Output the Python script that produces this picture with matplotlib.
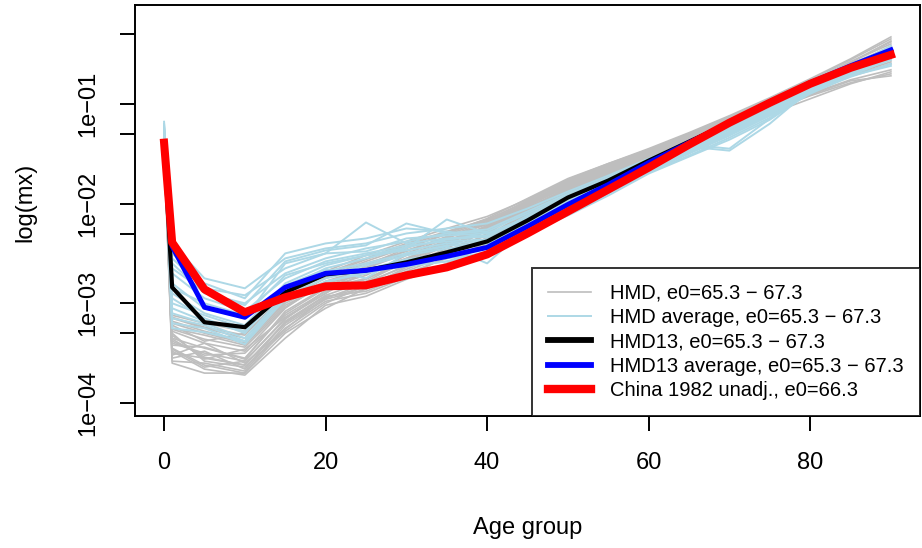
import matplotlib
matplotlib.use("Agg")
import matplotlib.pyplot as plt
import numpy as np
from matplotlib.lines import Line2D

plt.rcParams['font.family'] = ['Liberation Sans', 'DejaVu Sans']

ages = [0, 1, 5, 10, 15, 20, 25, 30, 35, 40, 45, 50, 55, 60, 65, 70, 75, 80, 85, 90]

# log10(mx)
china = [-1.39, -2.39, -2.86, -3.09, -2.94, -2.83, -2.82, -2.72, -2.64, -2.51,
         -2.30, -2.08, -1.86, -1.64, -1.41, -1.19, -0.99, -0.80, -0.64, -0.51]
hmd13 = [-1.40, -2.84, -3.19, -3.24, -2.89, -2.71, -2.67, -2.59, -2.49, -2.38,
         -2.17, -1.94, -1.77, -1.57, -1.38, -1.19, -0.99, -0.80, -0.63, -0.49]
hmd13_avg = [-1.40, -2.43, -3.04, -3.14, -2.84, -2.70, -2.67, -2.61, -2.53, -2.44,
             -2.23, -2.01, -1.81, -1.59, -1.39, -1.19, -0.99, -0.79, -0.62, -0.46]

hmd_gray = [
    [-1.30, -3.20, -3.30, -3.40, -3.00, -2.80, -2.70, -2.55, -2.40, -2.25, -2.05, -1.85, -1.68, -1.50, -1.33, -1.15, -0.97, -0.78, -0.58, -0.40],
    [-1.35, -3.35, -3.45, -3.55, -3.10, -2.85, -2.75, -2.60, -2.42, -2.27, -2.08, -1.88, -1.70, -1.52, -1.36, -1.18, -1.00, -0.82, -0.62, -0.45],
    [-1.25, -3.50, -3.55, -3.62, -3.20, -2.95, -2.80, -2.62, -2.45, -2.25, -2.03, -1.80, -1.62, -1.47, -1.31, -1.14, -0.95, -0.76, -0.56, -0.35],
    [-1.45, -3.15, -3.25, -3.35, -2.92, -2.70, -2.55, -2.40, -2.28, -2.16, -1.98, -1.78, -1.62, -1.48, -1.33, -1.18, -1.02, -0.85, -0.68, -0.52],
    [-1.40, -3.60, -3.70, -3.70, -3.30, -3.05, -2.85, -2.70, -2.55, -2.35, -2.12, -1.90, -1.72, -1.55, -1.40, -1.24, -1.06, -0.88, -0.70, -0.55],
    [-1.30, -3.28, -3.40, -3.48, -3.05, -2.78, -2.65, -2.50, -2.35, -2.20, -2.00, -1.82, -1.66, -1.50, -1.35, -1.20, -1.04, -0.88, -0.72, -0.60],
    [-1.50, -3.45, -3.62, -3.70, -3.25, -2.98, -2.90, -2.74, -2.60, -2.38, -2.10, -1.85, -1.66, -1.48, -1.32, -1.16, -0.98, -0.80, -0.62, -0.42],
    [-1.22, -3.40, -3.50, -3.58, -3.15, -2.90, -2.62, -2.45, -2.30, -2.15, -1.95, -1.75, -1.60, -1.46, -1.30, -1.13, -0.95, -0.77, -0.58, -0.38],
    [-1.38, -3.55, -3.48, -3.66, -3.18, -2.92, -2.78, -2.58, -2.40, -2.22, -2.02, -1.83, -1.67, -1.52, -1.38, -1.22, -1.06, -0.90, -0.76, -0.66],
    [-1.33, -3.22, -3.38, -3.30, -2.95, -2.75, -2.60, -2.48, -2.33, -2.19, -2.00, -1.80, -1.64, -1.49, -1.34, -1.17, -1.00, -0.83, -0.66, -0.50],
    [-1.42, -3.30, -3.58, -3.64, -3.28, -3.00, -2.82, -2.66, -2.50, -2.30, -2.06, -1.86, -1.70, -1.54, -1.39, -1.23, -1.07, -0.92, -0.79, -0.70],
    [-1.28, -3.12, -3.20, -3.28, -2.88, -2.68, -2.52, -2.38, -2.25, -2.13, -1.96, -1.77, -1.61, -1.47, -1.31, -1.14, -0.96, -0.78, -0.60, -0.43],
    [-1.36, -3.48, -3.66, -3.72, -3.35, -3.02, -2.93, -2.76, -2.62, -2.40, -2.18, -1.92, -1.74, -1.57, -1.41, -1.26, -1.10, -0.95, -0.80, -0.68],
    [-1.46, -3.25, -3.32, -3.42, -3.02, -2.82, -2.70, -2.55, -2.38, -2.24, -2.04, -1.84, -1.68, -1.51, -1.35, -1.19, -1.02, -0.86, -0.70, -0.56],
    [-1.31, -3.38, -3.52, -3.50, -3.12, -2.88, -2.76, -2.56, -2.43, -2.28, -2.07, -1.87, -1.71, -1.53, -1.37, -1.20, -1.03, -0.84, -0.65, -0.47],
    [-1.27, -3.58, -3.60, -3.68, -3.22, -2.96, -2.86, -2.68, -2.52, -2.36, -2.14, -1.91, -1.73, -1.56, -1.40, -1.23, -1.05, -0.87, -0.69, -0.51],
    [-1.41, -3.18, -3.28, -3.38, -2.98, -2.74, -2.58, -2.44, -2.31, -2.18, -1.99, -1.79, -1.63, -1.49, -1.36, -1.21, -1.06, -0.91, -0.77, -0.72],
    [-1.34, -3.42, -3.44, -3.56, -3.08, -2.84, -2.72, -2.52, -2.37, -2.23, -2.03, -1.81, -1.65, -1.50, -1.34, -1.16, -0.98, -0.79, -0.59, -0.37],
    [-1.24, -3.32, -3.56, -3.46, -3.14, -2.90, -2.68, -2.60, -2.47, -2.32, -2.09, -1.89, -1.70, -1.53, -1.38, -1.21, -1.04, -0.86, -0.67, -0.49],
    [-1.48, -3.52, -3.40, -3.60, -3.26, -2.94, -2.84, -2.64, -2.49, -2.26, -2.06, -1.84, -1.67, -1.51, -1.36, -1.20, -1.03, -0.85, -0.68, -0.54],
    [-1.29, -3.26, -3.36, -3.44, -3.04, -2.80, -2.64, -2.47, -2.34, -2.21, -2.01, -1.82, -1.65, -1.48, -1.32, -1.15, -0.97, -0.79, -0.61, -0.46],
    [-1.37, -3.46, -3.64, -3.58, -3.16, -2.87, -2.79, -2.63, -2.58, -2.50, -2.11, -1.86, -1.69, -1.52, -1.37, -1.21, -1.05, -0.88, -0.71, -0.58],
    [-1.43, -3.36, -3.54, -3.62, -3.19, -2.93, -2.88, -2.72, -2.54, -2.34, -2.10, -1.88, -1.71, -1.54, -1.38, -1.22, -1.05, -0.87, -0.68, -0.50],
    [-1.32, -3.14, -3.24, -3.32, -2.90, -2.72, -2.56, -2.42, -2.29, -2.17, -1.97, -1.76, -1.60, -1.45, -1.29, -1.12, -0.94, -0.75, -0.55, -0.33],
]

hmd_blue = [
    [-1.20, -2.40, -2.75, -2.85, -2.55, -2.45, -2.40, -2.30, -2.25, -2.20, -2.05, -1.88, -1.72, -1.55, -1.38, -1.20, -1.02, -0.82, -0.64, -0.46],
    [-1.30, -2.60, -2.90, -3.00, -2.70, -2.55, -2.45, -2.38, -2.30, -2.28, -2.10, -1.92, -1.75, -1.57, -1.40, -1.22, -1.03, -0.84, -0.66, -0.48],
    [-1.35, -2.80, -3.05, -3.15, -2.60, -2.50, -2.19, -2.40, -2.35, -2.32, -2.15, -1.96, -1.78, -1.60, -1.42, -1.24, -1.05, -0.85, -0.66, -0.47],
    [-1.40, -2.95, -3.15, -3.30, -2.85, -2.65, -2.55, -2.45, -2.16, -2.30, -2.18, -2.00, -1.82, -1.63, -1.45, -1.28, -1.08, -0.86, -0.68, -0.50],
    [-1.25, -3.10, -3.20, -3.35, -2.90, -2.72, -2.62, -2.52, -2.45, -2.40, -2.22, -2.04, -1.85, -1.66, -1.48, -1.30, -1.10, -0.88, -0.70, -0.52],
    [-1.45, -3.20, -3.25, -3.41, -2.95, -2.78, -2.70, -2.60, -2.55, -2.50, -2.28, -2.08, -1.88, -1.68, -1.50, -1.32, -1.12, -0.90, -0.72, -0.55],
    [-1.18, -2.50, -2.80, -2.95, -2.50, -2.40, -2.35, -2.25, -2.28, -2.34, -2.12, -1.94, -1.76, -1.58, -1.41, -1.45, -1.15, -0.84, -0.67, -0.50],
    [-1.32, -2.70, -2.95, -3.08, -2.75, -2.58, -2.50, -2.42, -2.38, -2.36, -2.16, -1.98, -1.80, -1.61, -1.43, -1.47, -1.20, -0.86, -0.69, -0.52],
    [-1.28, -2.90, -3.10, -3.22, -2.80, -2.62, -2.52, -2.47, -2.40, -2.38, -2.20, -2.02, -1.83, -1.64, -1.46, -1.28, -1.08, -0.83, -0.63, -0.42],
    [-1.38, -3.05, -3.18, -3.28, -2.88, -2.68, -2.60, -2.50, -2.43, -2.60, -2.24, -2.06, -1.87, -1.67, -1.49, -1.31, -1.11, -0.87, -0.70, -0.56],
    [-1.22, -2.55, -2.85, -2.92, -2.65, -2.50, -2.48, -2.35, -2.32, -2.30, -2.14, -1.97, -1.79, -1.62, -1.44, -1.26, -1.07, -0.85, -0.66, -0.47],
    [-1.42, -3.15, -3.22, -3.38, -2.92, -2.75, -2.66, -2.56, -2.50, -2.45, -2.26, -2.10, -1.90, -1.69, -1.52, -1.34, -1.14, -0.88, -0.72, -0.62],
    [-1.26, -2.65, -2.88, -3.02, -2.58, -2.47, -2.42, -2.20, -2.30, -2.26, -2.08, -1.90, -1.74, -1.56, -1.39, -1.21, -1.03, -0.82, -0.64, -0.45],
    [-1.36, -2.85, -3.00, -3.12, -2.72, -2.60, -2.52, -2.44, -2.36, -2.33, -2.14, -1.95, -1.77, -1.59, -1.42, -1.25, -1.06, -0.84, -0.66, -0.49],
    [-1.30, -3.00, -3.12, -3.25, -2.82, -2.66, -2.75, -2.50, -2.42, -2.40, -2.20, -2.01, -1.84, -1.65, -1.47, -1.29, -1.09, -0.86, -0.68, -0.51],
    [-1.44, -3.25, -3.29, -3.38, -2.96, -2.79, -2.68, -2.63, -2.58, -2.48, -2.30, -2.12, -1.92, -1.70, -1.53, -1.36, -1.16, -0.89, -0.73, -0.60],
]

labels = ["HMD, e0=65.3 \u2212 67.3", "HMD average, e0=65.3 \u2212 67.3",
          "HMD13, e0=65.3 \u2212 67.3", "HMD13 average, e0=65.3 \u2212 67.3",
          "China 1982 unadj., e0=66.3"]

fig = plt.figure(figsize=(9.22, 5.48), dpi=100)
ax = fig.add_axes([135 / 922, 132 / 548, 785 / 922, 411 / 548])

for row in hmd_gray:
    ax.plot(ages, 10 ** np.array(row), color="#BEBEBE", lw=1.2)
for row in hmd_blue:
    ax.plot(ages, 10 ** np.array(row), color="#ADD8E6", lw=1.4)
ax.plot(ages, 10 ** np.array(hmd13), color="black", lw=3)
ax.plot(ages, 10 ** np.array(hmd13_avg), color="#0000FF", lw=3.6)
ax.plot(ages, 10 ** np.array(china), color="#FF0000", lw=5.8)

ax.set_yscale("log")
ax.set_xlim(-3.6, 93.6)
ax.set_ylim(10 ** -4.13, 10 ** -0.01)

yt = [1e-4, 5e-4, 1e-3, 5e-3, 1e-2, 5e-2, 1e-1, 5e-1]
ax.set_yticks(yt)
ax.set_yticklabels(["1e\u221204", "", "1e\u221203", "", "1e\u221202", "", "1e\u221201", ""],
                   rotation=90, va="center")
ax.yaxis.set_minor_locator(matplotlib.ticker.NullLocator())
ax.set_xticks([0, 20, 40, 60, 80])

ax.tick_params(axis="both", length=11, width=1.4, labelsize=17, pad=15)
for s in ax.spines.values():
    s.set_linewidth(1.4)

ax.set_xlabel("Age group", fontsize=17)
ax.set_ylabel("log(mx)", fontsize=17)
ax.xaxis.set_label_coords(0.5, -0.245)
ax.yaxis.set_label_coords(-0.126, 0.52)

handles = [Line2D([], [], color="#BEBEBE", lw=1.2),
           Line2D([], [], color="#ADD8E6", lw=1.4),
           Line2D([], [], color="black", lw=4.2),
           Line2D([], [], color="#0000FF", lw=4.2),
           Line2D([], [], color="#FF0000", lw=6)]
leg = ax.legend(handles, labels, loc="lower right", fontsize=14.5, frameon=True,
                fancybox=False, borderaxespad=0, handlelength=2.15,
                handletextpad=0.95, borderpad=0.8, labelspacing=0.26)
leg.get_frame().set_edgecolor("black")
leg.get_frame().set_linewidth(1.4)

fig.savefig("out.png", dpi=100)
